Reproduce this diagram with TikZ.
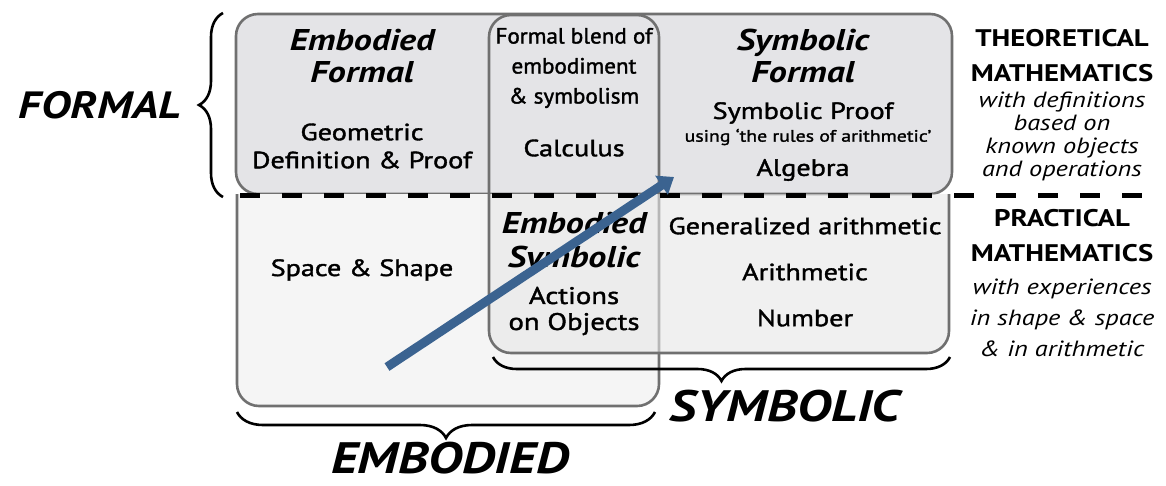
\documentclass[tikz,border=0pt]{standalone}
\usepackage{fontspec}
\setmainfont{PT Sans}[FakeStretch=1.2]
\newfontfamily\bodyfont{PT Sans}[FakeStretch=1.2, FakeBold=1.6]
\newfontfamily\blendfont{PT Sans}[FakeStretch=1.05, FakeBold=1.6]
\usetikzlibrary{decorations.pathreplacing,arrows.meta,calc}
\definecolor{boxline}{HTML}{707070}
\definecolor{formalfill}{HTML}{E4E4E7}
\definecolor{embfill}{HTML}{F5F5F5}
\definecolor{symfill}{HTML}{E6E6E6}
\definecolor{arrowblue}{HTML}{3B6390}
\newcommand{\fs}[2]{\fontsize{#1}{#2}\selectfont}
\tikzset{
  boxedge/.style={draw=boxline, line width=2.6pt, rounded corners=22pt},
  title/.style={inner sep=0pt, align=center, font=\fs{30}{32}\bfseries\itshape},
  body/.style={inner sep=0pt, align=center, font=\bodyfont\fs{23.5}{28}},
  side/.style={inner sep=0pt, align=center, font=\fs{24}{35}\bfseries},
  sideit/.style={inner sep=0pt, align=center, font=\fs{22}{23}\itshape},
  big/.style={inner sep=0pt, font=\fs{44}{44}\bfseries\itshape},
  bracestyle/.style={decorate, line width=2.6pt, black},
  divider/.style={line width=5pt, black, dash pattern=on 20pt off 22pt},
  flow/.style={line width=9pt, arrowblue, -{Triangle[length=15pt,width=22pt]}}
}
\begin{document}
\begin{tikzpicture}[x=1pt,y=-1pt]
\useasboundingbox[fill=white] (0,0) rectangle (1166,485);
% formal (top) box
\path[boxedge, fill=formalfill] (236,14) rectangle (952,194);
% embodied (lower left) box
\path[boxedge, fill=embfill] (237,194) -- (237,406) -- (659,406) -- (659,194);
% symbolic (lower right) box
\path[boxedge, fill=symfill, fill opacity=0.6] (489,194) -- (489,353) -- (949,353) -- (949,194);
% blend column
\path[boxedge] (489,194) -- (489,15) -- (659,15) -- (659,194);
% divider
\coordinate (dl) at (240,195);
\coordinate (dr) at (1162,195);
\draw[divider] (dl) -- (dr);

% left brace
\coordinate (fb1) at (223,197);
\coordinate (fb2) at (223,13);
\draw[bracestyle, decoration={brace, amplitude=24pt}] (fb1) -- (fb2);
\node[big, font=\fs{38}{38}\bfseries\itshape] (formal) at (100,105) {FORMAL};

% bottom braces
\coordinate (sb1) at (950,357);
\coordinate (sb2) at (493,357);
\draw[bracestyle, decoration={brace, amplitude=24pt}] (sb1) -- (sb2);
\node[big] (symbolic) at (785,406) {SYMBOLIC};
\coordinate (eb1) at (655,412);
\coordinate (eb2) at (237,412);
\draw[bracestyle, decoration={brace, amplitude=26pt}] (eb1) -- (eb2);
\node[big] (embodied) at (450,458) {EMBODIED};

% top row texts
\node[title] (ef) at (362,56) {Embodied\\Formal};
\node[body] (geo) at (362,146) {Geometric\\Definition \& Proof};
\node[body, font=\blendfont\fs{22}{30}] (blend) at (574,68) {Formal blend of\\embodiment\\\& symbolism};
\node[body] (calc) at (574,148) {Calculus};
\node[title] (sf) at (803,56) {Symbolic\\Formal};
\node[body] (sp) at (803,113) {Symbolic Proof};
\node[inner sep=0pt, font=\bodyfont\fs{16.5}{16}] (rules) at (808,137) {using ‘the rules of arithmetic’};
\node[body] (alg) at (803,170) {Algebra};

% lower row texts
\node[body] (ss) at (362,270) {Space \& Shape};
\node[title, font=\fs{30}{34}\bfseries\itshape] (es) at (574,243) {Embodied\\Symbolic};
\node[body, font=\bodyfont\fs{24}{26}] (act) at (574,311) {Actions\\on Objects};
\node[body] (gen) at (805,226) {Generalized arithmetic};
\node[body] (ari) at (805,272) {Arithmetic};
\node[body] (num) at (805,318) {Number};

% right side texts
\node[side] (theo) at (1062,56) {THEORETICAL\\MATHEMATICS};
\node[sideit] (theoit) at (1062,136) {with definitions\\based on\\known objects\\and operations};
\node[side] (prac) at (1062,236) {PRACTICAL\\MATHEMATICS};
\node[sideit, font=\fs{22}{31}\itshape] (pracit) at (1062,318) {with experiences\\in shape \& space\\\& in arithmetic};

% arrow
\coordinate (a1) at (387,367);
\coordinate (a2) at (674,177);
\draw[flow] (a1) -- (a2);
\end{tikzpicture}
\end{document}
